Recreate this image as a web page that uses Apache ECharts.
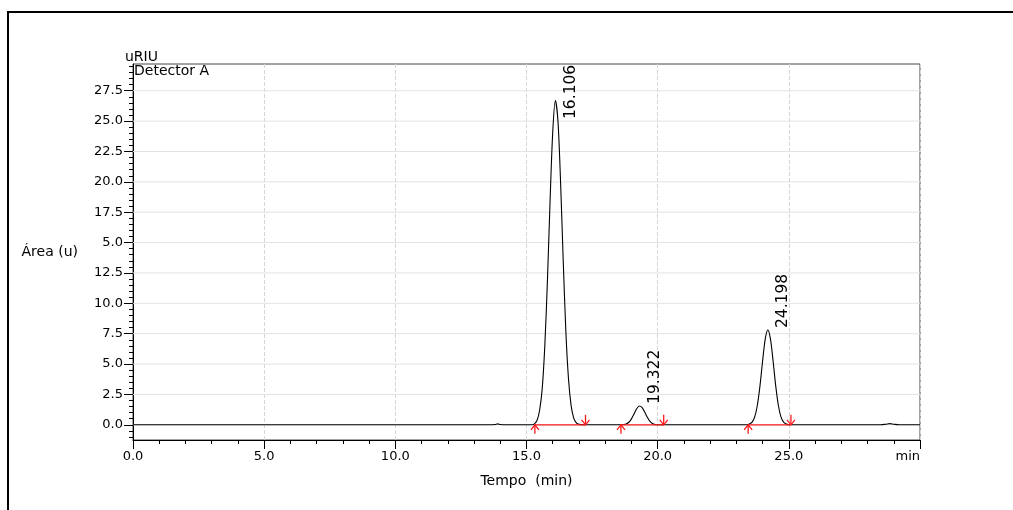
<!DOCTYPE html>
<html><head><meta charset="utf-8">
<script src="https://cdn.jsdelivr.net/npm/echarts@6/dist/echarts.min.js"></script>
<style>html,body{margin:0;padding:0;background:#fff}#c{width:1013px;height:510px}</style>
</head><body><div id="c"></div>
<script>
// Chromatogram trace (time in min, signal in uRIU)
const times = [0, 13.6, 13.8, 13.9, 14.0, 14.2,
  15.2, 15.3, 15.4, 15.5, 15.6, 15.7, 15.8, 15.9, 16.0, 16.1, 16.2, 16.3, 16.4, 16.5, 16.6, 16.7, 16.8, 16.9, 17.0, 17.2,
  18.6, 18.7, 18.8, 18.9, 19.0, 19.1, 19.2, 19.3, 19.4, 19.5, 19.6, 19.7, 19.8, 19.9, 20.0, 20.2,
  23.4, 23.5, 23.6, 23.7, 23.8, 23.9, 24.0, 24.1, 24.2, 24.3, 24.4, 24.5, 24.6, 24.7, 24.8, 24.9, 25.0, 25.2,
  28.5, 28.7, 28.85, 29.0, 29.2, 30];
const signal = [0, 0, 0.03, 0.08, 0.03, 0,
  0, 0.08, 0.35, 1.2, 3.0, 6.6, 12.0, 18.5, 24.1, 26.7, 25.0, 19.9, 13.5, 7.7, 3.8, 1.6, 0.55, 0.16, 0.04, 0,
  0, 0.02, 0.07, 0.21, 0.49, 0.9, 1.32, 1.55, 1.44, 1.07, 0.64, 0.3, 0.11, 0.03, 0.01, 0,
  0, 0.06, 0.22, 0.66, 1.61, 3.2, 5.25, 7.06, 7.8, 7.06, 5.25, 3.2, 1.61, 0.66, 0.22, 0.06, 0.01, 0,
  0, 0.05, 0.1, 0.05, 0, 0];

const peakTimes = [16.106, 19.322, 24.198];
const peakHeights = [26.7, 1.55, 7.8];
const peakStart = [15.32, 18.6, 23.45];
const peakEnd = [17.25, 20.23, 25.08];

const xTickLabels = ['0.0', '5.0', '10.0', '15.0', '20.0', '25.0', 'min'];
const yTickValues = [0, 2.5, 5, 7.5, 10, 12.5, 15, 17.5, 20, 22.5, 25, 27.5];
const yTickLabels = ['0.0', '2.5', '5.0', '7.5', '10.0', '12.5', '5.0', '17.5', '20.0', '22.5', '25.0', '27.5'];

const Y_MIN = -1.25, Y_MAX = 29.7;
const yMinorTicks = [];
for (let k = -2; k <= 59; k++) { if (k % 5 !== 0) yMinorTicks.push(k / 2); }

const F = 'DejaVu Sans';
const chart = echarts.init(document.getElementById('c'), null, {renderer: 'canvas'});

const trace = times.map((t, i) => [t, signal[i]]);

chart.setOption({
  animation: false,
  backgroundColor: '#fff',
  grid: {left: 133, right: 93, top: 64, bottom: 70, show: true, borderColor: '#444', borderWidth: 1},
  graphic: [
    {type: 'rect', shape: {x: 8, y: 12, width: 1200, height: 700}, style: {fill: 'none', stroke: '#000', lineWidth: 2}, silent: true},
    {type: 'text', x: 125, y: 57, style: {text: 'uRIU', font: '14px "DejaVu Sans"', fill: '#000', textVerticalAlign: 'middle'}},
    {type: 'text', x: 134, y: 71, style: {text: 'Detector A', font: '14px "DejaVu Sans"', fill: '#000', textVerticalAlign: 'middle'}}
  ],
  xAxis: {
    type: 'value', min: 0, max: 30, interval: 5,
    axisLine: {show: true, onZero: false, lineStyle: {color: '#000', width: 1}},
    axisTick: {show: true, length: 9, lineStyle: {color: '#000'}},
    minorTick: {show: true, splitNumber: 5, length: 4, lineStyle: {color: '#000'}},
    axisLabel: {color: '#000', fontSize: 13, fontFamily: F, margin: 10, alignMaxLabel: 'right',
      formatter: v => xTickLabels[Math.round(v / 5)]},
    splitLine: {show: true, lineStyle: {color: '#d6d6d6', type: 'dashed', width: 1}},
    name: 'Tempo  (min)', nameLocation: 'middle', nameGap: 34,
    nameTextStyle: {color: '#000', fontSize: 14, fontFamily: F}
  },
  yAxis: [{
    type: 'value', min: Y_MIN, max: Y_MAX,
    axisLine: {show: true, lineStyle: {color: '#000', width: 1}},
    axisTick: {show: true, length: 9, customValues: yTickValues, lineStyle: {color: '#000'}},
    axisLabel: {customValues: yTickValues, color: '#000', fontSize: 13, fontFamily: F, margin: 10,
      formatter: v => { const i = yTickValues.findIndex(t => Math.abs(t - v) < 1e-6); return i >= 0 ? yTickLabels[i] : ''; }},
    splitLine: {show: false},
    name: 'Área (u)', nameLocation: 'middle', nameRotate: 0, nameGap: 55,
    nameTextStyle: {color: '#000', fontSize: 14, fontFamily: F}
  }, {
    type: 'value', min: Y_MIN, max: Y_MAX, position: 'left', offset: 0,
    axisLine: {show: false}, axisLabel: {show: false}, splitLine: {show: false},
    axisTick: {show: true, length: 4, customValues: yMinorTicks, lineStyle: {color: '#000'}}
  }],
  series: [
    {
      type: 'custom', z: 1, silent: true,
      data: yTickValues.map(v => [v]),
      encode: {y: 0},
      renderItem: (params, api) => {
        const v = api.value(0);
        const a = api.coord([0, v]), b = api.coord([30, v]);
        return {type: 'line', shape: {x1: a[0], y1: a[1], x2: b[0], y2: b[1]}, style: {stroke: '#e3e3e3', lineWidth: 1}};
      }
    },
    {
      type: 'line', z: 3, data: trace, showSymbol: false, smooth: 0.3,
      lineStyle: {color: '#000', width: 1.1}, silent: true
    },
    {
      type: 'custom', z: 4, silent: true,
      data: peakStart.map((s, i) => [s, peakEnd[i]]),
      encode: {x: [0, 1]},
      renderItem: (params, api) => {
        const p1 = api.coord([api.value(0), 0]);
        const p2 = api.coord([api.value(1), 0]);
        const st = {stroke: '#ff1a1a', lineWidth: 1.3, fill: 'none'};
        return {type: 'group', children: [
          {type: 'line', shape: {x1: p1[0], y1: p1[1], x2: p2[0], y2: p2[1]}, style: st},
          {type: 'line', shape: {x1: p1[0], y1: p1[1], x2: p1[0], y2: p1[1] + 9}, style: st},
          {type: 'polyline', shape: {points: [[p1[0] - 4, p1[1] + 5], [p1[0], p1[1]], [p1[0] + 4, p1[1] + 5]]}, style: st},
          {type: 'line', shape: {x1: p2[0], y1: p2[1] - 10, x2: p2[0], y2: p2[1]}, style: st},
          {type: 'polyline', shape: {points: [[p2[0] - 4, p2[1] - 5], [p2[0], p2[1]], [p2[0] + 4, p2[1] - 5]]}, style: st}
        ]};
      }
    },
    {
      type: 'custom', z: 5, silent: true,
      data: peakTimes.map((t, i) => [t, peakHeights[i]]),
      renderItem: (params, api) => {
        const t = api.value(0);
        const p = api.coord([t, api.value(1)]);
        const top = params.coordSys.y;
        const y = Math.max(p[1] - 2, top + 55);
        return {type: 'text', x: p[0] + 15, y: y, rotation: Math.PI / 2,
          style: {text: t.toFixed(3), font: '15.5px "DejaVu Sans"', fill: '#000', align: 'left', verticalAlign: 'middle'}};
      }
    }
  ]
});
</script></body></html>
